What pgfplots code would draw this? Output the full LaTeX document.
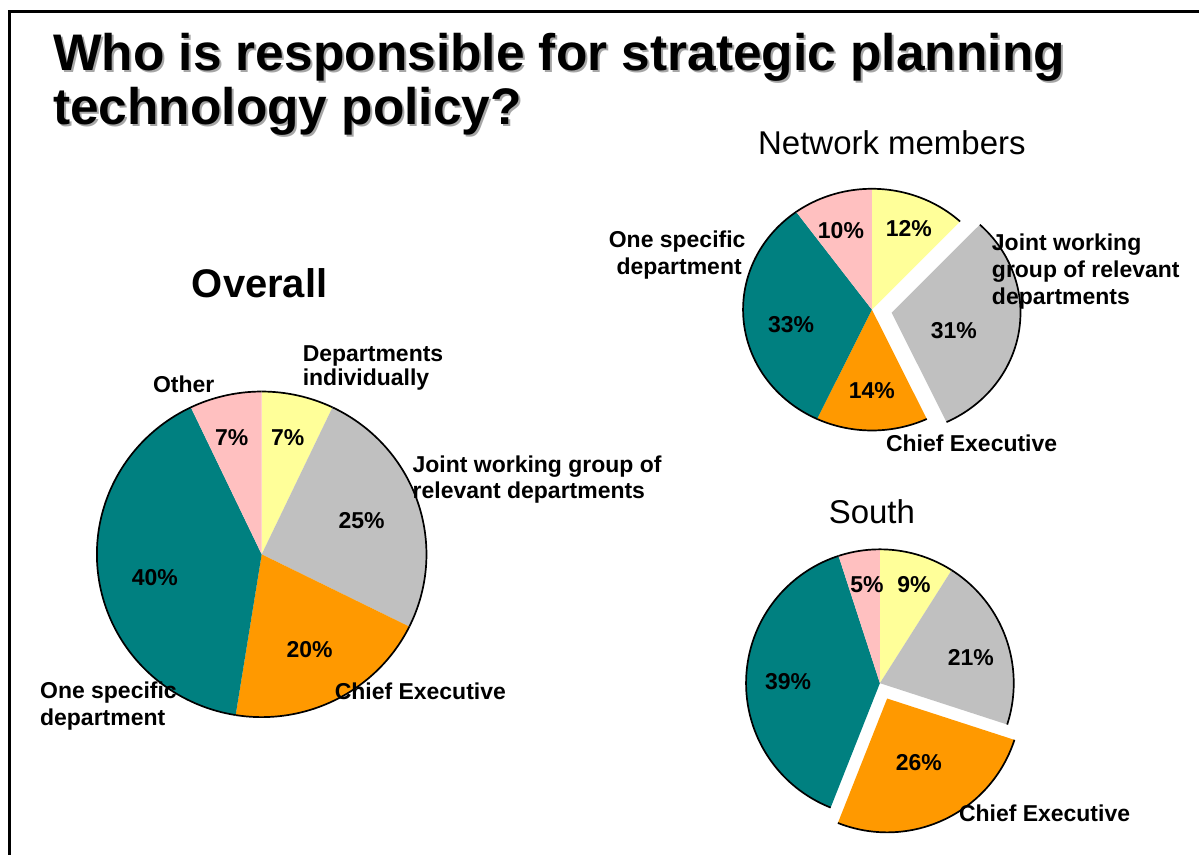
\documentclass[border=0pt]{standalone}
\usepackage{pgfplots}
\pgfplotsset{compat=1.18}
\usepackage{fontspec}
\setmainfont{Liberation Sans}
\definecolor{yel}{HTML}{FFFF99}
\definecolor{gry}{HTML}{C0C0C0}
\definecolor{org}{HTML}{FF9900}
\definecolor{tea}{HTML}{008080}
\definecolor{pnk}{HTML}{FFC0C0}
% #1 cx, #2 cy, #3 rx, #4 ry, #5 start value, #6 end value, #7 total, #8 colour, #9 explode offset
\newcommand{\pieslice}[9]{%
  \pgfmathsetmacro\ang{(#5+#6)/#7*180}%
  \pgfmathsetmacro\ccx{#1+#9*sin(\ang)}%
  \pgfmathsetmacro\ccy{#2-#9*cos(\ang)}%
  \pgfmathsetmacro\aS{#5/#7*360}%
  \pgfmathsetmacro\aE{#6/#7*360}%
  \edef\temp{%
    \noexpand\addplot[fill=#8, draw=none, domain=\aS:\aE, samples=90]
      ({\ccx+#3*sin(x)},{\ccy-#4*cos(x)}) -- (axis cs:\ccx,\ccy) -- cycle;
    \noexpand\addplot[draw=black, line width=1.7pt, domain=\aS:\aE, samples=90]
      ({\ccx+#3*sin(x)},{\ccy-#4*cos(x)});
  }\temp}
\newcommand{\pct}{\fontsize{23}{26}\selectfont\bfseries}
\newcommand{\lbl}{\fontsize{23}{26}\selectfont\bfseries}
\newcommand{\ttl}{\fontsize{51.5}{54}\selectfont\bfseries}
\begin{document}
\begin{tikzpicture}
\begin{axis}[x=1pt, y=1pt, xmin=0, xmax=1200, ymin=0, ymax=856, y dir=reverse,
  hide axis, scale only axis, clip=false, anchor=origin, at={(0,0)}]
\path[fill=white] (axis cs:0,0) rectangle (axis cs:1200,856);
\draw[line width=3pt] (axis cs:8,11.5) -- (axis cs:1200,11.5);
\draw[line width=3pt] (axis cs:9.5,10) -- (axis cs:9.5,856);
% Title (with a faint shadow)
\node[anchor=base west, inner sep=0, font=\ttl, text=black!35] at (axis cs:55,73) {Who is responsible for strategic planning};
\node[anchor=base west, inner sep=0, font=\ttl, text=black!35] at (axis cs:55,127) {technology policy?};
\node[anchor=base west, inner sep=0, font=\ttl] at (axis cs:53,71) {Who is responsible for strategic planning};
\node[anchor=base west, inner sep=0, font=\ttl] at (axis cs:53,125) {technology policy?};
% ---------- Overall (total 99) ----------
\pieslice{262}{555}{165}{163}{0}{7}{99}{yel}{0}
\pieslice{262}{555}{165}{163}{7}{32}{99}{gry}{0}
\pieslice{262}{555}{165}{163}{32}{52}{99}{org}{0}
\pieslice{262}{555}{165}{163}{52}{92}{99}{tea}{0}
\pieslice{262}{555}{165}{163}{92}{99}{99}{pnk}{0}
\node[anchor=base, inner sep=0, font=\fontsize{40}{44}\selectfont\bfseries] at (axis cs:260,298) {Overall};
\node[anchor=base, inner sep=0, font=\pct] at (axis cs:288,446) {7\%};
\node[anchor=base, inner sep=0, font=\pct] at (axis cs:232,446) {7\%};
\node[anchor=base, inner sep=0, font=\pct] at (axis cs:362,529) {25\%};
\node[anchor=base, inner sep=0, font=\pct] at (axis cs:310,658) {20\%};
\node[anchor=base, inner sep=0, font=\pct] at (axis cs:155,586) {40\%};
\node[anchor=base west, inner sep=0, font=\lbl] at (axis cs:303,362) {Departments};
\node[anchor=base west, inner sep=0, font=\lbl] at (axis cs:303,386) {individually};
\node[anchor=base west, inner sep=0, font=\lbl] at (axis cs:153,393) {Other};
\node[anchor=base west, inner sep=0, font=\lbl] at (axis cs:413,473) {Joint working group of};
\node[anchor=base west, inner sep=0, font=\lbl] at (axis cs:413,499) {relevant departments};
\node[anchor=base west, inner sep=0, font=\lbl] at (axis cs:335,700) {Chief Executive};
\node[anchor=base west, inner sep=0, font=\lbl] at (axis cs:40,699) {One specific};
\node[anchor=base west, inner sep=0, font=\lbl] at (axis cs:40,726) {department};
% ---------- Network members (total 100) ----------
\pieslice{873}{310}{129}{121}{0}{12}{100}{yel}{0}
\pieslice{873}{310}{129}{121}{12}{43}{100}{gry}{20}
\pieslice{873}{310}{129}{121}{43}{57}{100}{org}{0}
\pieslice{873}{310}{129}{121}{57}{90}{100}{tea}{0}
\pieslice{873}{310}{129}{121}{90}{100}{100}{pnk}{0}
\node[anchor=base, inner sep=0, font=\fontsize{33}{36}\selectfont] at (axis cs:893,155) {Network members};
\node[anchor=base, inner sep=0, font=\pct] at (axis cs:842,239) {10\%};
\node[anchor=base, inner sep=0, font=\pct] at (axis cs:910,237) {12\%};
\node[anchor=base, inner sep=0, font=\pct] at (axis cs:792,333) {33\%};
\node[anchor=base, inner sep=0, font=\pct] at (axis cs:955,339) {31\%};
\node[anchor=base, inner sep=0, font=\pct] at (axis cs:873,399) {14\%};
\node[anchor=base, inner sep=0, font=\lbl] at (axis cs:678,248) {One specific};
\node[anchor=base, inner sep=0, font=\lbl] at (axis cs:680,275) {department};
\node[anchor=base west, inner sep=0, font=\lbl] at (axis cs:993,251) {Joint working};
\node[anchor=base west, inner sep=0, font=\lbl] at (axis cs:993,278) {group of relevant};
\node[anchor=base west, inner sep=0, font=\lbl] at (axis cs:993,305) {departments};
\node[anchor=base west, inner sep=0, font=\lbl] at (axis cs:887,452) {Chief Executive};
% ---------- South (total 100) ----------
\pieslice{881}{684}{134}{134}{0}{9}{100}{yel}{0}
\pieslice{881}{684}{134}{134}{9}{30}{100}{gry}{0}
\pieslice{881}{684}{134}{134}{30}{56}{100}{org}{17}
\pieslice{881}{684}{134}{134}{56}{95}{100}{tea}{0}
\pieslice{881}{684}{134}{134}{95}{100}{100}{pnk}{0}
\node[anchor=base, inner sep=0, font=\fontsize{33}{36}\selectfont] at (axis cs:873,524) {South};
\node[anchor=base, inner sep=0, font=\pct] at (axis cs:868,593) {5\%};
\node[anchor=base, inner sep=0, font=\pct] at (axis cs:915,593) {9\%};
\node[anchor=base, inner sep=0, font=\pct] at (axis cs:972,666) {21\%};
\node[anchor=base, inner sep=0, font=\pct] at (axis cs:789,690) {39\%};
\node[anchor=base, inner sep=0, font=\pct] at (axis cs:920,771) {26\%};
\node[anchor=base west, inner sep=0, font=\lbl] at (axis cs:960,823) {Chief Executive};
\end{axis}
\end{tikzpicture}
\end{document}
